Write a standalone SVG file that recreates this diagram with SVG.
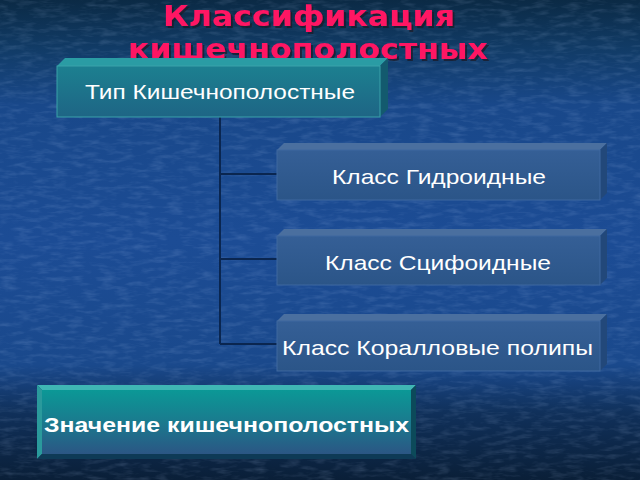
<svg xmlns="http://www.w3.org/2000/svg" width="640" height="480" viewBox="0 0 640 480">
  <defs>
    <linearGradient id="bg" x1="0" y1="0" x2="0" y2="1">
      <stop offset="0" stop-color="#0b2a45"/>
      <stop offset="0.1" stop-color="#113b66"/>
      <stop offset="0.22" stop-color="#19488a"/>
      <stop offset="0.5" stop-color="#1c4c95"/>
      <stop offset="0.76" stop-color="#1a498c"/>
      <stop offset="0.86" stop-color="#10305a"/>
      <stop offset="1" stop-color="#0a1f38"/>
    </linearGradient>
    <filter id="tex" x="0" y="0" width="100%" height="100%">
      <feTurbulence type="fractalNoise" baseFrequency="0.06 0.22" numOctaves="3" seed="7" result="n"/>
      <feColorMatrix in="n" type="matrix" values="0 0 0 0 0.55  0 0 0 0 0.7  0 0 0 0 1  0 0 0 1.4 -0.62"/>
    </filter>
    <filter id="ds" x="-5%" y="-20%" width="110%" height="140%">
      <feDropShadow dx="2" dy="2" stdDeviation="0.6" flood-color="#1a1a2a" flood-opacity="0.75"/>
    </filter>
    <linearGradient id="topFace" x1="0" y1="0" x2="0" y2="1">
      <stop offset="0" stop-color="#1c8090"/>
      <stop offset="1" stop-color="#1e6585"/>
    </linearGradient>
    <linearGradient id="clsFace" x1="0" y1="0" x2="0" y2="1">
      <stop offset="0" stop-color="#355f96"/>
      <stop offset="1" stop-color="#2b5588"/>
    </linearGradient>
    <linearGradient id="btmFace" x1="0" y1="0" x2="0" y2="1">
      <stop offset="0" stop-color="#0b9896"/>
      <stop offset="0.5" stop-color="#1a7a8e"/>
      <stop offset="1" stop-color="#2b5684"/>
    </linearGradient>
    <style>
      .title { font-family: "DejaVu Sans", Verdana, sans-serif; font-weight: bold; font-size: 29px; fill: #ff1464; }
      .lbl { font-family: "Liberation Sans", Arial, sans-serif; font-size: 21px; fill: #ffffff; }
      .blbl { font-family: "Liberation Sans", Arial, sans-serif; font-size: 21px; font-weight: bold; fill: #ffffff; }
      .conn { stroke: #0a2650; stroke-width: 2; fill: none; }
      .clsTop { fill: #4a6f9f; }
      .clsRight { fill: #22487a; }
      .clsFront { fill: url(#clsFace); stroke: #3f68a0; stroke-width: 1; }
    </style>
  </defs>

  <rect x="0" y="0" width="640" height="480" fill="url(#bg)"/>
  <rect x="0" y="0" width="640" height="480" filter="url(#tex)" opacity="0.22"/>

  <g id="title" filter="url(#ds)">
    <text class="title" x="163" y="26" textLength="292" lengthAdjust="spacingAndGlyphs">Классификация</text>
    <text class="title" x="128" y="59" textLength="360" lengthAdjust="spacingAndGlyphs">кишечнополостных</text>
  </g>

  <g id="connectors">
    <path class="conn" d="M220,117 V344"/>
    <path class="conn" d="M220,174 H277"/>
    <path class="conn" d="M220,259 H277"/>
    <path class="conn" d="M220,344 H277"/>
  </g>

  <g id="node-type">
    <polygon points="57,66 65,58 388,58 380,66" fill="#2a9ca4"/>
    <polygon points="380,66 388,58 388,109 380,117" fill="#135a6e"/>
    <rect x="57" y="66" width="323" height="51" fill="url(#topFace)" stroke="#3aa2aa" stroke-width="1"/>
    <text class="lbl" x="85" y="99" textLength="270" lengthAdjust="spacingAndGlyphs">Тип Кишечнополостные</text>
  </g>

  <g id="node-hydro">
    <polygon class="clsTop" points="277,150 284,143 607,143 600,150"/>
    <polygon class="clsRight" points="600,150 607,143 607,193 600,200"/>
    <rect class="clsFront" x="277" y="150" width="323" height="50"/>
    <text class="lbl" x="332" y="184" textLength="214" lengthAdjust="spacingAndGlyphs">Класс Гидроидные</text>
  </g>

  <g id="node-scypho">
    <polygon class="clsTop" points="277,236 284,229 607,229 600,236"/>
    <polygon class="clsRight" points="600,236 607,229 607,278 600,285"/>
    <rect class="clsFront" x="277" y="236" width="323" height="49"/>
    <text class="lbl" x="325" y="270" textLength="226" lengthAdjust="spacingAndGlyphs">Класс Сцифоидные</text>
  </g>

  <g id="node-coral">
    <polygon class="clsTop" points="277,321 284,314 607,314 600,321"/>
    <polygon class="clsRight" points="600,321 607,314 607,364 600,371"/>
    <rect class="clsFront" x="277" y="321" width="323" height="50"/>
    <text class="lbl" x="282" y="355" textLength="311" lengthAdjust="spacingAndGlyphs">Класс Коралловые полипы</text>
  </g>

  <g id="node-meaning">
    <polygon points="37,385 416,385 411,390 42,390" fill="#3fb6b4"/>
    <polygon points="37,385 42,390 42,454 37,459" fill="#2a9a9c"/>
    <polygon points="416,385 416,459 411,454 411,390" fill="#0c4a5a"/>
    <polygon points="37,459 42,454 411,454 416,459" fill="#0e3a56"/>
    <rect x="42" y="390" width="369" height="64" fill="url(#btmFace)"/>
    <text class="blbl" x="44" y="432" textLength="365" lengthAdjust="spacingAndGlyphs">Значение кишечнополостных</text>
  </g>
</svg>
